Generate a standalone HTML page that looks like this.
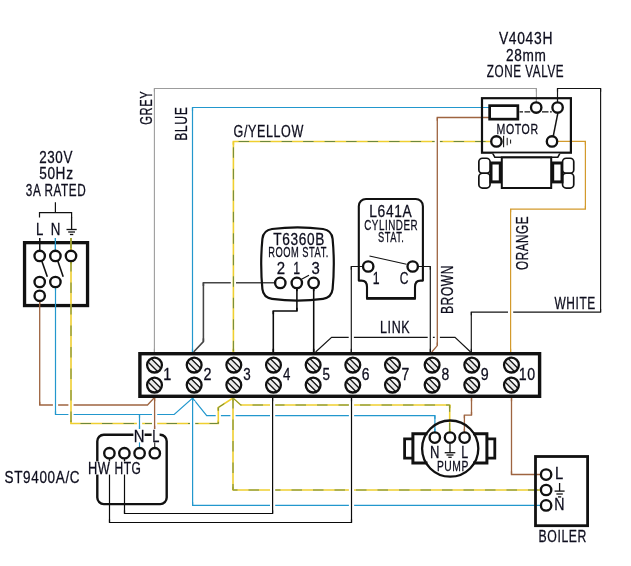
<!DOCTYPE html>
<html lang="en">
<head>
<meta charset="utf-8">
<title>Wiring diagram</title>
<style>
html,body{margin:0;padding:0;background:#fff;}
body{width:631px;height:566px;overflow:hidden;}
svg{display:block;}
text{font-family:"Liberation Sans",sans-serif;fill:#0c0c1c;stroke:#0c0c1c;stroke-width:0.28px;}
</style>
</head>
<body>
<svg width="631" height="566" viewBox="0 0 631 566">
<rect width="631" height="566" fill="#fff"/>
<g id="wires">
<path d="M154.4 352 L154.4 88.5 L536.4 88.5 L536.4 102" fill="none" stroke="#9c9c9c" stroke-width="1.1" stroke-linejoin="miter"/>
<path d="M192.5 352 L192.5 107.5 L489 107.5" fill="none" stroke="#2297cd" stroke-width="1.2" stroke-linejoin="miter"/>
<path d="M233.4 352 L233.4 141.5 L490.5 141.5" fill="none" stroke="#efcf30" stroke-width="1.6" stroke-linejoin="miter"/>
<path d="M233.4 352 L233.4 141.5 L490.5 141.5" fill="none" stroke="#5c803c" stroke-width="0.9000000000000001" stroke-dasharray="10.5 11" stroke-dashoffset="20.8"/>
<path d="M431.8 352 L437.3 345.6 L437.3 117.5 L489 117.5" fill="none" stroke="#9e6440" stroke-width="1.3" stroke-linejoin="miter"/>
<path d="M557.5 102 L557.5 88.5 L600.6 88.5 L600.6 312.1 L471.3 312.1 L471.3 352" fill="none" stroke="#151515" stroke-width="1.15" stroke-linejoin="miter"/>
<path d="M557.5 141.4 L585.4 141.4 L585.4 209.1 L510.6 209.1 L510.6 352" fill="none" stroke="#d39a2c" stroke-width="1.2" stroke-linejoin="miter"/>
<path d="M511.5 398 L511.5 474.5 L541 474.5" fill="none" stroke="#9e6440" stroke-width="1.3" stroke-linejoin="miter"/>
<path d="M275 282.8 L203.4 282.8 L203.4 341.6 L193.6 352" fill="none" stroke="#454545" stroke-width="1.55" stroke-linejoin="miter"/>
<path d="M296.9 288 L296.9 311 L273.3 311 L273.3 352" fill="none" stroke="#0a0a0a" stroke-width="1.55" stroke-linejoin="miter"/>
<path d="M313.7 288 L313.7 352" fill="none" stroke="#0a0a0a" stroke-width="1.55" stroke-linejoin="miter"/>
<path d="M363 266.5 L351.3 266.5 L351.3 352" fill="none" stroke="#151515" stroke-width="1.15" stroke-linejoin="miter"/>
<path d="M418 266.5 L430.3 266.5 L430.3 352" fill="none" stroke="#151515" stroke-width="1.15" stroke-linejoin="miter"/>
<path d="M315.6 352 L331.6 337.4 L455 337.4 L470.6 352" fill="none" stroke="#151515" stroke-width="1.15" stroke-linejoin="miter"/>
<path d="M39.7 301 L39.7 405 L147.5 405 L154 398" fill="none" stroke="#9e6440" stroke-width="1.3" stroke-linejoin="miter"/>
<path d="M154.6 398 L154.6 429" fill="none" stroke="#9e6440" stroke-width="1.3" stroke-linejoin="miter"/>
<path d="M55.5 287 L55.5 414.5 L174.2 414.5 L192.6 398 L206.7 415.6 L434.9 415.6 L434.9 432" fill="none" stroke="#2297cd" stroke-width="1.2" stroke-linejoin="miter"/>
<path d="M192.6 398 L192.6 505.4 L541 505.4" fill="none" stroke="#2297cd" stroke-width="1.2" stroke-linejoin="miter"/>
<path d="M139.5 414.5 L139.5 429" fill="none" stroke="#2297cd" stroke-width="1.2" stroke-linejoin="miter"/>
<path d="M71 261 L71 423.5 L218.3 423.5 L218.3 407.5 L233 398 L240.8 405 L449.7 405 L449.7 432" fill="none" stroke="#efcf30" stroke-width="1.6" stroke-linejoin="miter"/>
<path d="M71 261 L71 423.5 L218.3 423.5 L218.3 407.5 L233 398 L240.8 405 L449.7 405 L449.7 432" fill="none" stroke="#5c803c" stroke-width="0.9000000000000001" stroke-dasharray="10.5 11" stroke-dashoffset="0"/>
<path d="M233 398 L233 490 L541 490" fill="none" stroke="#efcf30" stroke-width="1.6" stroke-linejoin="miter"/>
<path d="M233 398 L233 490 L541 490" fill="none" stroke="#5c803c" stroke-width="0.9000000000000001" stroke-dasharray="10.5 11" stroke-dashoffset="0"/>
<path d="M272.6 398 L272.6 513.5 L124.5 513.5 L124.5 459" fill="none" stroke="#0a0a0a" stroke-width="1.2" stroke-linejoin="miter"/>
<path d="M351.5 398 L351.5 522.5 L109.5 522.5 L109.5 459" fill="none" stroke="#0a0a0a" stroke-width="1.2" stroke-linejoin="miter"/>
<path d="M471.5 398 L471.5 415.1 L464.4 415.1 L464.4 432" fill="none" stroke="#9e6440" stroke-width="1.3" stroke-linejoin="miter"/>
<path d="M39.7 238 L39.7 250" fill="none" stroke="#111" stroke-width="1.2" stroke-linejoin="miter"/>
<path d="M55.4 238 L55.4 250" fill="none" stroke="#2297cd" stroke-width="1.2" stroke-linejoin="miter"/>
<path d="M71 238 L71 250" fill="none" stroke="#efcf30" stroke-width="1.6" stroke-linejoin="miter"/>
<path d="M71 238 L71 250" fill="none" stroke="#5c803c" stroke-width="0.9000000000000001" stroke-dasharray="10.5 11" stroke-dashoffset="0"/>
</g>
<g id="wire-gaps">
<path d="M154.4 91.7V348.8" stroke="#fff" stroke-width="5.2" fill="none"/>
<path d="M536.4 91.7V98.8" stroke="#fff" stroke-width="5.2" fill="none"/>
<path d="M192.5 110.7V348.8" stroke="#fff" stroke-width="5.2" fill="none"/>
<path d="M233.4 144.7V348.8" stroke="#fff" stroke-width="5.2" fill="none"/>
<path d="M437.3 120.7V342.4" stroke="#fff" stroke-width="5.2" fill="none"/>
<path d="M557.5 91.7V98.8" stroke="#fff" stroke-width="5.2" fill="none"/>
<path d="M600.6 91.7V308.9" stroke="#fff" stroke-width="5.2" fill="none"/>
<path d="M471.3 315.3V348.8" stroke="#fff" stroke-width="5.2" fill="none"/>
<path d="M585.4 144.6V205.9" stroke="#fff" stroke-width="5.2" fill="none"/>
<path d="M510.6 212.3V348.8" stroke="#fff" stroke-width="5.2" fill="none"/>
<path d="M511.5 401.2V471.3" stroke="#fff" stroke-width="5.2" fill="none"/>
<path d="M203.4 286V338.4" stroke="#fff" stroke-width="5.2" fill="none"/>
<path d="M296.9 291.2V307.8" stroke="#fff" stroke-width="5.2" fill="none"/>
<path d="M273.3 314.2V348.8" stroke="#fff" stroke-width="5.2" fill="none"/>
<path d="M313.7 291.2V348.8" stroke="#fff" stroke-width="5.2" fill="none"/>
<path d="M351.3 269.7V348.8" stroke="#fff" stroke-width="5.2" fill="none"/>
<path d="M430.3 269.7V348.8" stroke="#fff" stroke-width="5.2" fill="none"/>
<path d="M39.7 304.2V401.8" stroke="#fff" stroke-width="5.2" fill="none"/>
<path d="M154.6 401.2V425.8" stroke="#fff" stroke-width="5.2" fill="none"/>
<path d="M55.5 290.2V411.3" stroke="#fff" stroke-width="5.2" fill="none"/>
<path d="M434.9 418.8V428.8" stroke="#fff" stroke-width="5.2" fill="none"/>
<path d="M192.6 401.2V502.2" stroke="#fff" stroke-width="5.2" fill="none"/>
<path d="M139.5 417.7V425.8" stroke="#fff" stroke-width="5.2" fill="none"/>
<path d="M71 264.2V420.3" stroke="#fff" stroke-width="5.2" fill="none"/>
<path d="M218.3 410.7V420.3" stroke="#fff" stroke-width="5.2" fill="none"/>
<path d="M449.7 408.2V428.8" stroke="#fff" stroke-width="5.2" fill="none"/>
<path d="M233 401.2V486.8" stroke="#fff" stroke-width="5.2" fill="none"/>
<path d="M272.6 401.2V510.3" stroke="#fff" stroke-width="5.2" fill="none"/>
<path d="M124.5 462.2V510.3" stroke="#fff" stroke-width="5.2" fill="none"/>
<path d="M351.5 401.2V519.3" stroke="#fff" stroke-width="5.2" fill="none"/>
<path d="M109.5 462.2V519.3" stroke="#fff" stroke-width="5.2" fill="none"/>
<path d="M471.5 401.2V411.9" stroke="#fff" stroke-width="5.2" fill="none"/>
<path d="M464.4 418.3V428.8" stroke="#fff" stroke-width="5.2" fill="none"/>
</g>
<g id="under">
<rect x="24.55" y="242.65" width="63" height="62.9" rx="0" fill="none" stroke="#111" stroke-width="3.3"/>
</g>
<g id="wires-over">
<path d="M154.4 352 L154.4 88.5" fill="none" stroke="#9c9c9c" stroke-width="1.1" stroke-linejoin="miter"/>
<path d="M536.4 88.5 L536.4 102" fill="none" stroke="#9c9c9c" stroke-width="1.1" stroke-linejoin="miter"/>
<path d="M192.5 352 L192.5 107.5" fill="none" stroke="#2297cd" stroke-width="1.2" stroke-linejoin="miter"/>
<path d="M233.4 352 L233.4 141.5" fill="none" stroke="#efcf30" stroke-width="1.6" stroke-linejoin="miter"/>
<path d="M233.4 352 L233.4 141.5" fill="none" stroke="#5c803c" stroke-width="0.9000000000000001" stroke-dasharray="10.5 11" stroke-dashoffset="20.8"/>
<path d="M437.3 345.6 L437.3 117.5" fill="none" stroke="#9e6440" stroke-width="1.3" stroke-linejoin="miter"/>
<path d="M557.5 102 L557.5 88.5" fill="none" stroke="#151515" stroke-width="1.15" stroke-linejoin="miter"/>
<path d="M600.6 88.5 L600.6 312.1" fill="none" stroke="#151515" stroke-width="1.15" stroke-linejoin="miter"/>
<path d="M471.3 312.1 L471.3 352" fill="none" stroke="#151515" stroke-width="1.15" stroke-linejoin="miter"/>
<path d="M585.4 141.4 L585.4 209.1" fill="none" stroke="#d39a2c" stroke-width="1.2" stroke-linejoin="miter"/>
<path d="M510.6 209.1 L510.6 352" fill="none" stroke="#d39a2c" stroke-width="1.2" stroke-linejoin="miter"/>
<path d="M511.5 398 L511.5 474.5" fill="none" stroke="#9e6440" stroke-width="1.3" stroke-linejoin="miter"/>
<path d="M203.4 282.8 L203.4 341.6" fill="none" stroke="#454545" stroke-width="1.55" stroke-linejoin="miter"/>
<path d="M296.9 288 L296.9 311" fill="none" stroke="#0a0a0a" stroke-width="1.55" stroke-linejoin="miter"/>
<path d="M273.3 311 L273.3 352" fill="none" stroke="#0a0a0a" stroke-width="1.55" stroke-linejoin="miter"/>
<path d="M313.7 288 L313.7 352" fill="none" stroke="#0a0a0a" stroke-width="1.55" stroke-linejoin="miter"/>
<path d="M351.3 266.5 L351.3 352" fill="none" stroke="#151515" stroke-width="1.15" stroke-linejoin="miter"/>
<path d="M430.3 266.5 L430.3 352" fill="none" stroke="#151515" stroke-width="1.15" stroke-linejoin="miter"/>
<path d="M39.7 301 L39.7 405" fill="none" stroke="#9e6440" stroke-width="1.3" stroke-linejoin="miter"/>
<path d="M154.6 398 L154.6 429" fill="none" stroke="#9e6440" stroke-width="1.3" stroke-linejoin="miter"/>
<path d="M55.5 287 L55.5 414.5" fill="none" stroke="#2297cd" stroke-width="1.2" stroke-linejoin="miter"/>
<path d="M434.9 415.6 L434.9 432" fill="none" stroke="#2297cd" stroke-width="1.2" stroke-linejoin="miter"/>
<path d="M192.6 398 L192.6 505.4" fill="none" stroke="#2297cd" stroke-width="1.2" stroke-linejoin="miter"/>
<path d="M139.5 414.5 L139.5 429" fill="none" stroke="#2297cd" stroke-width="1.2" stroke-linejoin="miter"/>
<path d="M71 261 L71 423.5" fill="none" stroke="#efcf30" stroke-width="1.6" stroke-linejoin="miter"/>
<path d="M71 261 L71 423.5" fill="none" stroke="#5c803c" stroke-width="0.9000000000000001" stroke-dasharray="10.5 11" stroke-dashoffset="0"/>
<path d="M218.3 423.5 L218.3 407.5" fill="none" stroke="#efcf30" stroke-width="1.6" stroke-linejoin="miter"/>
<path d="M218.3 423.5 L218.3 407.5" fill="none" stroke="#5c803c" stroke-width="0.9000000000000001" stroke-dasharray="10.5 11" stroke-dashoffset="8.8"/>
<path d="M449.7 405 L449.7 432" fill="none" stroke="#efcf30" stroke-width="1.6" stroke-linejoin="miter"/>
<path d="M449.7 405 L449.7 432" fill="none" stroke="#5c803c" stroke-width="0.9000000000000001" stroke-dasharray="10.5 11" stroke-dashoffset="3.68"/>
<path d="M233 398 L233 490" fill="none" stroke="#efcf30" stroke-width="1.6" stroke-linejoin="miter"/>
<path d="M233 398 L233 490" fill="none" stroke="#5c803c" stroke-width="0.9000000000000001" stroke-dasharray="10.5 11" stroke-dashoffset="0"/>
<path d="M272.6 398 L272.6 513.5" fill="none" stroke="#0a0a0a" stroke-width="1.2" stroke-linejoin="miter"/>
<path d="M124.5 513.5 L124.5 459" fill="none" stroke="#0a0a0a" stroke-width="1.2" stroke-linejoin="miter"/>
<path d="M351.5 398 L351.5 522.5" fill="none" stroke="#0a0a0a" stroke-width="1.2" stroke-linejoin="miter"/>
<path d="M109.5 522.5 L109.5 459" fill="none" stroke="#0a0a0a" stroke-width="1.2" stroke-linejoin="miter"/>
<path d="M471.5 398 L471.5 415.1" fill="none" stroke="#9e6440" stroke-width="1.3" stroke-linejoin="miter"/>
<path d="M464.4 415.1 L464.4 432" fill="none" stroke="#9e6440" stroke-width="1.3" stroke-linejoin="miter"/>
<path d="M39.7 238 L39.7 250" fill="none" stroke="#111" stroke-width="1.2" stroke-linejoin="miter"/>
<path d="M55.4 238 L55.4 250" fill="none" stroke="#2297cd" stroke-width="1.2" stroke-linejoin="miter"/>
<path d="M71 238 L71 250" fill="none" stroke="#efcf30" stroke-width="1.6" stroke-linejoin="miter"/>
<path d="M71 238 L71 250" fill="none" stroke="#5c803c" stroke-width="0.9000000000000001" stroke-dasharray="10.5 11" stroke-dashoffset="0"/>
</g>
<g id="shapes">
<circle cx="39.7" cy="255.9" r="5.2" fill="#fff" stroke="#111" stroke-width="2.35"/>
<circle cx="55.4" cy="255.9" r="5.2" fill="#fff" stroke="#111" stroke-width="2.35"/>
<circle cx="71" cy="255.9" r="5.2" fill="#fff" stroke="#111" stroke-width="2.35"/>
<circle cx="39.7" cy="282" r="5.2" fill="#fff" stroke="#111" stroke-width="2.35"/>
<circle cx="55.4" cy="282" r="5.2" fill="#fff" stroke="#111" stroke-width="2.35"/>
<circle cx="39.7" cy="295.8" r="5.2" fill="#fff" stroke="#111" stroke-width="2.35"/>
<path d="M41.8 261L47.3 276.7" stroke="#111" stroke-width="1.6" fill="none"/>
<path d="M57.8 261L63.2 276.7" stroke="#111" stroke-width="1.6" fill="none"/>
<path d="M55.4 202.3V212.6M39.5 217.4V212.6H71.6V217.4" stroke="#111" stroke-width="1.2" fill="none"/>
<path d="M71.6 217L71.6 229.5" stroke="#111" stroke-width="1.3" fill="none"/>
<path d="M66.5 229.5L76.7 229.5" stroke="#111" stroke-width="1.3" fill="none"/>
<path d="M68.2 232L75 232" stroke="#111" stroke-width="1.3" fill="none"/>
<path d="M69.9 234.5L73.3 234.5" stroke="#111" stroke-width="1.3" fill="none"/>
<rect x="139.9" y="353.7" width="399.7" height="42.6" rx="0" fill="#fff" stroke="#111" stroke-width="3.4"/>
<g transform="translate(154.5 365.1)"><circle r="7.4" fill="#fbfbfb"/><path d="M-6.7 -3.3L3.3 6.7L6.7 3.3L-3.3 -6.7Z" fill="#e9e9e9"/><path d="M-6.7 -3.3L3.3 6.7M-3.3 -6.7L6.7 3.3" stroke="#161616" stroke-width="1.35" fill="none"/><circle r="7.4" fill="none" stroke="#111" stroke-width="2.3"/></g>
<g transform="translate(154.5 385.1)"><circle r="7.4" fill="#fbfbfb"/><path d="M-6.7 -3.3L3.3 6.7L6.7 3.3L-3.3 -6.7Z" fill="#e9e9e9"/><path d="M-6.7 -3.3L3.3 6.7M-3.3 -6.7L6.7 3.3" stroke="#161616" stroke-width="1.35" fill="none"/><circle r="7.4" fill="none" stroke="#111" stroke-width="2.3"/></g>
<g transform="translate(194.16 365.1)"><circle r="7.4" fill="#fbfbfb"/><path d="M-6.7 -3.3L3.3 6.7L6.7 3.3L-3.3 -6.7Z" fill="#e9e9e9"/><path d="M-6.7 -3.3L3.3 6.7M-3.3 -6.7L6.7 3.3" stroke="#161616" stroke-width="1.35" fill="none"/><circle r="7.4" fill="none" stroke="#111" stroke-width="2.3"/></g>
<g transform="translate(194.16 385.1)"><circle r="7.4" fill="#fbfbfb"/><path d="M-6.7 -3.3L3.3 6.7L6.7 3.3L-3.3 -6.7Z" fill="#e9e9e9"/><path d="M-6.7 -3.3L3.3 6.7M-3.3 -6.7L6.7 3.3" stroke="#161616" stroke-width="1.35" fill="none"/><circle r="7.4" fill="none" stroke="#111" stroke-width="2.3"/></g>
<g transform="translate(233.82 365.1)"><circle r="7.4" fill="#fbfbfb"/><path d="M-6.7 -3.3L3.3 6.7L6.7 3.3L-3.3 -6.7Z" fill="#e9e9e9"/><path d="M-6.7 -3.3L3.3 6.7M-3.3 -6.7L6.7 3.3" stroke="#161616" stroke-width="1.35" fill="none"/><circle r="7.4" fill="none" stroke="#111" stroke-width="2.3"/></g>
<g transform="translate(233.82 385.1)"><circle r="7.4" fill="#fbfbfb"/><path d="M-6.7 -3.3L3.3 6.7L6.7 3.3L-3.3 -6.7Z" fill="#e9e9e9"/><path d="M-6.7 -3.3L3.3 6.7M-3.3 -6.7L6.7 3.3" stroke="#161616" stroke-width="1.35" fill="none"/><circle r="7.4" fill="none" stroke="#111" stroke-width="2.3"/></g>
<g transform="translate(273.48 365.1)"><circle r="7.4" fill="#fbfbfb"/><path d="M-6.7 -3.3L3.3 6.7L6.7 3.3L-3.3 -6.7Z" fill="#e9e9e9"/><path d="M-6.7 -3.3L3.3 6.7M-3.3 -6.7L6.7 3.3" stroke="#161616" stroke-width="1.35" fill="none"/><circle r="7.4" fill="none" stroke="#111" stroke-width="2.3"/></g>
<g transform="translate(273.48 385.1)"><circle r="7.4" fill="#fbfbfb"/><path d="M-6.7 -3.3L3.3 6.7L6.7 3.3L-3.3 -6.7Z" fill="#e9e9e9"/><path d="M-6.7 -3.3L3.3 6.7M-3.3 -6.7L6.7 3.3" stroke="#161616" stroke-width="1.35" fill="none"/><circle r="7.4" fill="none" stroke="#111" stroke-width="2.3"/></g>
<g transform="translate(313.14 365.1)"><circle r="7.4" fill="#fbfbfb"/><path d="M-6.7 -3.3L3.3 6.7L6.7 3.3L-3.3 -6.7Z" fill="#e9e9e9"/><path d="M-6.7 -3.3L3.3 6.7M-3.3 -6.7L6.7 3.3" stroke="#161616" stroke-width="1.35" fill="none"/><circle r="7.4" fill="none" stroke="#111" stroke-width="2.3"/></g>
<g transform="translate(313.14 385.1)"><circle r="7.4" fill="#fbfbfb"/><path d="M-6.7 -3.3L3.3 6.7L6.7 3.3L-3.3 -6.7Z" fill="#e9e9e9"/><path d="M-6.7 -3.3L3.3 6.7M-3.3 -6.7L6.7 3.3" stroke="#161616" stroke-width="1.35" fill="none"/><circle r="7.4" fill="none" stroke="#111" stroke-width="2.3"/></g>
<g transform="translate(352.8 365.1)"><circle r="7.4" fill="#fbfbfb"/><path d="M-6.7 -3.3L3.3 6.7L6.7 3.3L-3.3 -6.7Z" fill="#e9e9e9"/><path d="M-6.7 -3.3L3.3 6.7M-3.3 -6.7L6.7 3.3" stroke="#161616" stroke-width="1.35" fill="none"/><circle r="7.4" fill="none" stroke="#111" stroke-width="2.3"/></g>
<g transform="translate(352.8 385.1)"><circle r="7.4" fill="#fbfbfb"/><path d="M-6.7 -3.3L3.3 6.7L6.7 3.3L-3.3 -6.7Z" fill="#e9e9e9"/><path d="M-6.7 -3.3L3.3 6.7M-3.3 -6.7L6.7 3.3" stroke="#161616" stroke-width="1.35" fill="none"/><circle r="7.4" fill="none" stroke="#111" stroke-width="2.3"/></g>
<g transform="translate(392.46 365.1)"><circle r="7.4" fill="#fbfbfb"/><path d="M-6.7 -3.3L3.3 6.7L6.7 3.3L-3.3 -6.7Z" fill="#e9e9e9"/><path d="M-6.7 -3.3L3.3 6.7M-3.3 -6.7L6.7 3.3" stroke="#161616" stroke-width="1.35" fill="none"/><circle r="7.4" fill="none" stroke="#111" stroke-width="2.3"/></g>
<g transform="translate(392.46 385.1)"><circle r="7.4" fill="#fbfbfb"/><path d="M-6.7 -3.3L3.3 6.7L6.7 3.3L-3.3 -6.7Z" fill="#e9e9e9"/><path d="M-6.7 -3.3L3.3 6.7M-3.3 -6.7L6.7 3.3" stroke="#161616" stroke-width="1.35" fill="none"/><circle r="7.4" fill="none" stroke="#111" stroke-width="2.3"/></g>
<g transform="translate(432.12 365.1)"><circle r="7.4" fill="#fbfbfb"/><path d="M-6.7 -3.3L3.3 6.7L6.7 3.3L-3.3 -6.7Z" fill="#e9e9e9"/><path d="M-6.7 -3.3L3.3 6.7M-3.3 -6.7L6.7 3.3" stroke="#161616" stroke-width="1.35" fill="none"/><circle r="7.4" fill="none" stroke="#111" stroke-width="2.3"/></g>
<g transform="translate(432.12 385.1)"><circle r="7.4" fill="#fbfbfb"/><path d="M-6.7 -3.3L3.3 6.7L6.7 3.3L-3.3 -6.7Z" fill="#e9e9e9"/><path d="M-6.7 -3.3L3.3 6.7M-3.3 -6.7L6.7 3.3" stroke="#161616" stroke-width="1.35" fill="none"/><circle r="7.4" fill="none" stroke="#111" stroke-width="2.3"/></g>
<g transform="translate(471.78 365.1)"><circle r="7.4" fill="#fbfbfb"/><path d="M-6.7 -3.3L3.3 6.7L6.7 3.3L-3.3 -6.7Z" fill="#e9e9e9"/><path d="M-6.7 -3.3L3.3 6.7M-3.3 -6.7L6.7 3.3" stroke="#161616" stroke-width="1.35" fill="none"/><circle r="7.4" fill="none" stroke="#111" stroke-width="2.3"/></g>
<g transform="translate(471.78 385.1)"><circle r="7.4" fill="#fbfbfb"/><path d="M-6.7 -3.3L3.3 6.7L6.7 3.3L-3.3 -6.7Z" fill="#e9e9e9"/><path d="M-6.7 -3.3L3.3 6.7M-3.3 -6.7L6.7 3.3" stroke="#161616" stroke-width="1.35" fill="none"/><circle r="7.4" fill="none" stroke="#111" stroke-width="2.3"/></g>
<g transform="translate(511.44 365.1)"><circle r="7.4" fill="#fbfbfb"/><path d="M-6.7 -3.3L3.3 6.7L6.7 3.3L-3.3 -6.7Z" fill="#e9e9e9"/><path d="M-6.7 -3.3L3.3 6.7M-3.3 -6.7L6.7 3.3" stroke="#161616" stroke-width="1.35" fill="none"/><circle r="7.4" fill="none" stroke="#111" stroke-width="2.3"/></g>
<g transform="translate(511.44 385.1)"><circle r="7.4" fill="#fbfbfb"/><path d="M-6.7 -3.3L3.3 6.7L6.7 3.3L-3.3 -6.7Z" fill="#e9e9e9"/><path d="M-6.7 -3.3L3.3 6.7M-3.3 -6.7L6.7 3.3" stroke="#161616" stroke-width="1.35" fill="none"/><circle r="7.4" fill="none" stroke="#111" stroke-width="2.3"/></g>
<rect x="97.3" y="434.8" width="69.4" height="69.3" rx="6.5" fill="none" stroke="#111" stroke-width="2.4"/>
<path d="M139.5 442L139.5 448" stroke="#2297cd" stroke-width="1.15" fill="none"/>
<path d="M154.7 442L154.7 448" stroke="#333" stroke-width="1.2" fill="none"/>
<circle cx="109.4" cy="453.2" r="5.2" fill="#fff" stroke="#111" stroke-width="2.35"/>
<circle cx="124.4" cy="453.2" r="5.2" fill="#fff" stroke="#111" stroke-width="2.35"/>
<circle cx="139.6" cy="453.2" r="5.2" fill="#fff" stroke="#111" stroke-width="2.35"/>
<circle cx="154.8" cy="453.2" r="5.2" fill="#fff" stroke="#111" stroke-width="2.35"/>
<path d="M272 229Q297.5 225.8 323 229Q331.6 230.2 332.6 238.8Q335 264 332.6 289.2Q331.6 297.7 323 298.8Q297.5 302.4 272 298.8Q263.4 297.7 262.4 289.2Q260 264 262.4 238.8Q263.4 230.2 272 229Z" fill="none" stroke="#111" stroke-width="2.2"/>
<circle cx="280.3" cy="282.9" r="5.2" fill="#fff" stroke="#111" stroke-width="2.35"/>
<circle cx="296.8" cy="282.9" r="5.2" fill="#fff" stroke="#111" stroke-width="2.35"/>
<circle cx="313.6" cy="282.9" r="5.2" fill="#fff" stroke="#111" stroke-width="2.35"/>
<path d="M301.5 279.3L309 275.2" stroke="#111" stroke-width="1.2" fill="none"/>
<path d="M358.8 280.6V206.2A7.2 7.2 0 0 1 366 199H415.7A7.2 7.2 0 0 1 422.9 206.2V280.6H420.5Q415 280.6 415 287V298.2H367V287Q367 280.6 361.5 280.6Z" fill="none" stroke="#111" stroke-width="2.1" stroke-linejoin="round"/>
<path d="M366.2 298.4L415.8 298.4" stroke="#111" stroke-width="2.6" fill="none"/>
<circle cx="368.2" cy="266.5" r="5.2" fill="#fff" stroke="#111" stroke-width="2.35"/>
<circle cx="412.7" cy="266.5" r="5.2" fill="#fff" stroke="#111" stroke-width="2.35"/>
<path d="M369.5 256L406.5 264.3" stroke="#111" stroke-width="1.1" fill="none"/>
<rect x="482" y="98.2" width="88.9" height="54.5" rx="0" fill="none" stroke="#111" stroke-width="2.2"/>
<rect x="489.65" y="105.65" width="28.2" height="13.5" rx="0" fill="#fff" stroke="#111" stroke-width="2.7"/>
<path d="M519.5 111.9H523M524.5 111.9H530.2M542 111.9H548.5M550 111.9H551.8" stroke="#111" stroke-width="1.1" fill="none"/>
<circle cx="536.2" cy="107.5" r="5.2" fill="#fff" stroke="#111" stroke-width="2.35"/>
<circle cx="557.6" cy="107.5" r="5.2" fill="#fff" stroke="#111" stroke-width="2.35"/>
<circle cx="496.4" cy="141.4" r="5.2" fill="#fff" stroke="#111" stroke-width="2.35"/>
<circle cx="552" cy="141.4" r="5.2" fill="#fff" stroke="#111" stroke-width="2.35"/>
<path d="M557.8 113.4L553.3 135.8" stroke="#111" stroke-width="1.5" fill="none"/>
<path d="M503.6 135.8L503.6 147.3" stroke="#111" stroke-width="1.1" fill="none"/>
<path d="M507.2 137.8L507.2 145.3" stroke="#111" stroke-width="1" fill="none"/>
<path d="M510.6 139.6L510.6 143.6" stroke="#111" stroke-width="1" fill="none"/>
<path d="M492.8 153.6L494.8 157.2H557.8L559.8 153.6" fill="#fff" stroke="#111" stroke-width="1.5"/>
<rect x="501.8" y="157.4" width="49.4" height="30.6" rx="0" fill="#fff" stroke="#111" stroke-width="2.0"/>
<rect x="491" y="163" width="9.3" height="18.9" rx="0" fill="#fff" stroke="#111" stroke-width="3.0"/>
<rect x="552.7" y="163" width="9.3" height="18.9" rx="0" fill="#fff" stroke="#111" stroke-width="3.0"/>
<rect x="478.85" y="158.25" width="11.2" height="15" rx="3.6" fill="#fff" stroke="#111" stroke-width="1.7"/>
<rect x="478.85" y="173.25" width="11.2" height="14.8" rx="3.6" fill="none" stroke="#111" stroke-width="1.7"/>
<rect x="562.55" y="158.25" width="11.2" height="15" rx="3.6" fill="#fff" stroke="#111" stroke-width="1.7"/>
<rect x="562.55" y="173.25" width="11.2" height="14.8" rx="3.6" fill="none" stroke="#111" stroke-width="1.7"/>
<path d="M427.5 433.7H412.9V463.1H427.5M473 433.7H486.9V463.1H473" fill="none" stroke="#111" stroke-width="3"/>
<path d="M412.5 438.9H404.6V458.2H412.5M487.3 438.9H494.8V458.2H487.3" fill="none" stroke="#111" stroke-width="2.8"/>
<circle cx="450.2" cy="448.6" r="28.1" fill="none" stroke="#111" stroke-width="2.3"/>
<circle cx="434.8" cy="437.6" r="5.2" fill="#fff" stroke="#111" stroke-width="2.35"/>
<circle cx="450" cy="437.6" r="5.2" fill="#fff" stroke="#111" stroke-width="2.35"/>
<circle cx="464.6" cy="437.6" r="5.2" fill="#fff" stroke="#111" stroke-width="2.35"/>
<path d="M450 444L450 452.7" stroke="#111" stroke-width="1.3" fill="none"/>
<path d="M444.7 452.7L455.3 452.7" stroke="#111" stroke-width="1.3" fill="none"/>
<path d="M446.5 455L453.5 455" stroke="#111" stroke-width="1.3" fill="none"/>
<path d="M448.3 457.3L451.7 457.3" stroke="#111" stroke-width="1.3" fill="none"/>
<rect x="535.5" y="456.5" width="52.1" height="69.2" rx="0" fill="none" stroke="#111" stroke-width="2.8"/>
<circle cx="546.1" cy="474.6" r="5.2" fill="#fff" stroke="#111" stroke-width="2.35"/>
<circle cx="546.1" cy="490" r="5.2" fill="#fff" stroke="#111" stroke-width="2.35"/>
<circle cx="546.1" cy="505.4" r="5.2" fill="#fff" stroke="#111" stroke-width="2.35"/>
<path d="M559.6 483L559.6 491.1" stroke="#111" stroke-width="1.3" fill="none"/>
<path d="M554.6 491.1L564.6 491.1" stroke="#111" stroke-width="1.3" fill="none"/>
<path d="M556.4 494L562.8 494" stroke="#111" stroke-width="1.3" fill="none"/>
<path d="M558 496.9L561.2 496.9" stroke="#111" stroke-width="1.3" fill="none"/>
</g>
<g id="labels" opacity="0.995">
<text x="39.15" y="162.8" font-size="16.5" letter-spacing="0.8" textLength="33.93" lengthAdjust="spacingAndGlyphs">230V</text>
<text x="39.15" y="178.6" font-size="16.5" letter-spacing="0.8" textLength="34.46" lengthAdjust="spacingAndGlyphs">50Hz</text>
<text x="25.8" y="196" font-size="16.5" letter-spacing="0.8" textLength="60.48" lengthAdjust="spacingAndGlyphs">3A RATED</text>
<text x="36" y="234.7" font-size="16.5" letter-spacing="0.8" textLength="7.97" lengthAdjust="spacingAndGlyphs">L</text>
<text x="50.65" y="234.7" font-size="16.5" letter-spacing="0.8" textLength="10.27" lengthAdjust="spacingAndGlyphs">N</text>
<text x="151.8" y="124.65" font-size="16.5" letter-spacing="0.8" textLength="33.79" lengthAdjust="spacingAndGlyphs" transform="rotate(-90 151.8 124.65)">GREY</text>
<text x="187" y="140.85" font-size="16.5" letter-spacing="0.8" textLength="34.22" lengthAdjust="spacingAndGlyphs" transform="rotate(-90 187 140.85)">BLUE</text>
<text x="233.5" y="136.7" font-size="16.5" letter-spacing="0.8" textLength="70.46" lengthAdjust="spacingAndGlyphs">G/YELLOW</text>
<text x="498.95" y="44.1" font-size="16.5" letter-spacing="0.8" textLength="54.14" lengthAdjust="spacingAndGlyphs">V4043H</text>
<text x="506" y="60.6" font-size="16.5" letter-spacing="0.8" textLength="40.52" lengthAdjust="spacingAndGlyphs">28mm</text>
<text x="486.8" y="76.9" font-size="16.5" letter-spacing="0.8" textLength="77.38" lengthAdjust="spacingAndGlyphs">ZONE VALVE</text>
<text x="496.6" y="133.7" font-size="14.8" letter-spacing="0.8" textLength="42.05" lengthAdjust="spacingAndGlyphs">MOTOR</text>
<text x="273.2" y="244.9" font-size="16.5" letter-spacing="0.8" textLength="51.83" lengthAdjust="spacingAndGlyphs">T6360B</text>
<text x="268.25" y="256.8" font-size="14.4" letter-spacing="0.8" textLength="60.65" lengthAdjust="spacingAndGlyphs">ROOM STAT.</text>
<text x="276.7" y="273.6" font-size="17.3" letter-spacing="0.8" textLength="9.03" lengthAdjust="spacingAndGlyphs">2</text>
<text x="293.25" y="273.6" font-size="17.3" letter-spacing="0.8" textLength="7.39" lengthAdjust="spacingAndGlyphs">1</text>
<text x="311.5" y="273.6" font-size="17.3" letter-spacing="0.8" textLength="8.97" lengthAdjust="spacingAndGlyphs">3</text>
<text x="369.2" y="216.5" font-size="16.5" letter-spacing="0.8" textLength="43.3" lengthAdjust="spacingAndGlyphs">L641A</text>
<text x="364.15" y="229.8" font-size="14.4" letter-spacing="0.8" textLength="54.03" lengthAdjust="spacingAndGlyphs">CYLINDER</text>
<text x="377.95" y="241.5" font-size="14.4" letter-spacing="0.8" textLength="26.47" lengthAdjust="spacingAndGlyphs">STAT.</text>
<text x="372.75" y="283.5" font-size="17.3" letter-spacing="0.8" textLength="7.39" lengthAdjust="spacingAndGlyphs">1</text>
<text x="399.85" y="283.5" font-size="17.3" letter-spacing="0.8" textLength="9.28" lengthAdjust="spacingAndGlyphs">C</text>
<text x="380" y="333.4" font-size="16" letter-spacing="0.8" textLength="30.26" lengthAdjust="spacingAndGlyphs">LINK</text>
<text x="453.3" y="314" font-size="16.5" letter-spacing="0.8" textLength="49.09" lengthAdjust="spacingAndGlyphs" transform="rotate(-90 453.3 314)">BROWN</text>
<text x="528" y="270" font-size="16.5" letter-spacing="0.8" textLength="53.98" lengthAdjust="spacingAndGlyphs" transform="rotate(-90 528 270)">ORANGE</text>
<rect x="553" y="296" width="43" height="14.6" fill="#fff"/><text x="554.5" y="309.2" font-size="16.5" letter-spacing="0.8" textLength="41.31" lengthAdjust="spacingAndGlyphs">WHITE</text>
<text x="4.5" y="482.6" font-size="16.5" letter-spacing="0.8" textLength="75.78" lengthAdjust="spacingAndGlyphs">ST9400A/C</text>
<rect x="88" y="461.4" width="23" height="13.2" fill="#fff"/><text x="87.95" y="473.7" font-size="16.5" letter-spacing="0.8" textLength="22.55" lengthAdjust="spacingAndGlyphs">HW</text>
<rect x="114.5" y="461.4" width="26.5" height="13.2" fill="#fff"/><text x="114.45" y="473.7" font-size="16.5" letter-spacing="0.8" textLength="27.04" lengthAdjust="spacingAndGlyphs">HTG</text>
<rect x="133.4" y="429.4" width="11.2" height="13" fill="#fff"/><text x="133.7" y="441.5" font-size="16.5" letter-spacing="0.8" textLength="11.41" lengthAdjust="spacingAndGlyphs">N</text>
<rect x="151.6" y="429.4" width="8" height="13" fill="#fff"/><text x="152.3" y="441.5" font-size="16.5" letter-spacing="0.8" textLength="7.76" lengthAdjust="spacingAndGlyphs">L</text>
<text x="430" y="457.5" font-size="16.5" letter-spacing="0.8" textLength="10.04" lengthAdjust="spacingAndGlyphs">N</text>
<text x="461.15" y="457.5" font-size="16.5" letter-spacing="0.8" textLength="7.52" lengthAdjust="spacingAndGlyphs">L</text>
<text x="436.9" y="470.8" font-size="14.2" letter-spacing="0.8" textLength="32.11" lengthAdjust="spacingAndGlyphs">PUMP</text>
<text x="555" y="479.4" font-size="16.5" letter-spacing="0.8" textLength="8.88" lengthAdjust="spacingAndGlyphs">L</text>
<text x="554.35" y="510" font-size="16.5" letter-spacing="0.8" textLength="10.91" lengthAdjust="spacingAndGlyphs">N</text>
<text x="538.5" y="542.4" font-size="16.5" letter-spacing="0.8" textLength="48.5" lengthAdjust="spacingAndGlyphs">BOILER</text>
<text x="163.35" y="379.5" font-size="16.3" letter-spacing="0.8" textLength="8.73" lengthAdjust="spacingAndGlyphs">1</text>
<text x="203.4" y="379.5" font-size="16.3" letter-spacing="0.8" textLength="8.66" lengthAdjust="spacingAndGlyphs">2</text>
<text x="243.25" y="379.5" font-size="16.3" letter-spacing="0.8" textLength="8.12" lengthAdjust="spacingAndGlyphs">3</text>
<text x="283" y="379.5" font-size="16.3" letter-spacing="0.8" textLength="8.03" lengthAdjust="spacingAndGlyphs">4</text>
<text x="322.5" y="379.5" font-size="16.3" letter-spacing="0.8" textLength="8.11" lengthAdjust="spacingAndGlyphs">5</text>
<text x="361.75" y="379.5" font-size="16.3" letter-spacing="0.8" textLength="8.41" lengthAdjust="spacingAndGlyphs">6</text>
<text x="401.5" y="379.5" font-size="16.3" letter-spacing="0.8" textLength="8.45" lengthAdjust="spacingAndGlyphs">7</text>
<text x="441.5" y="379.5" font-size="16.3" letter-spacing="0.8" textLength="8.45" lengthAdjust="spacingAndGlyphs">8</text>
<text x="480.8" y="379.5" font-size="16.3" letter-spacing="0.8" textLength="8.64" lengthAdjust="spacingAndGlyphs">9</text>
<text x="518.8" y="379.5" font-size="16.3" letter-spacing="0.8" textLength="17.14" lengthAdjust="spacingAndGlyphs">10</text>
</g>
</svg>
</body>
</html>
